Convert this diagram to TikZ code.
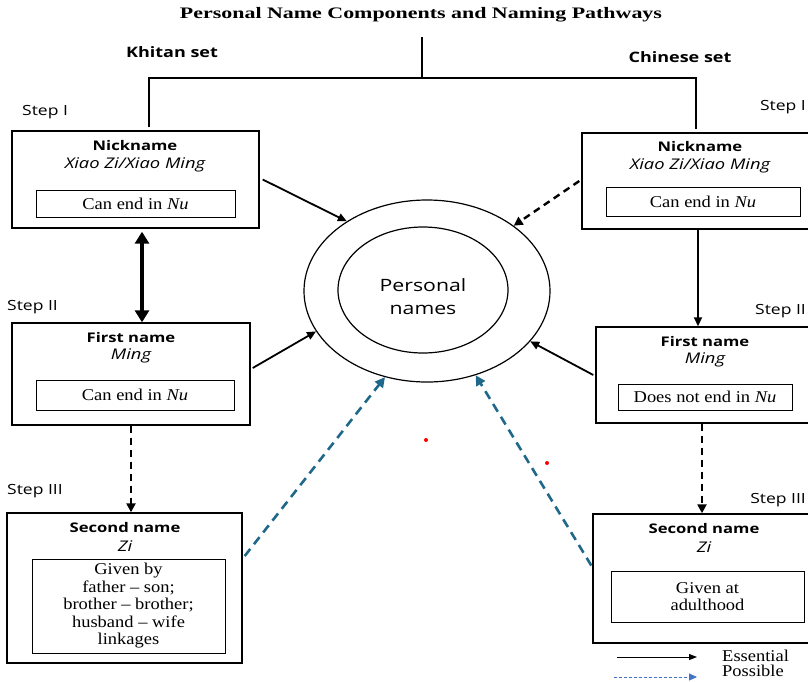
\documentclass[tikz,border=0pt]{standalone}
\usepackage{fontspec}
\usepackage{graphicx}
\setmainfont[FakeStretch=1.12]{Liberation Serif}
\newfontfamily\sansf[FakeStretch=1.25]{Open Sans}
\usetikzlibrary{arrows.meta,shapes.geometric}
\definecolor{bluec}{RGB}{31,104,138}
\definecolor{legblue}{RGB}{68,114,196}
\tikzset{
  outer/.style={draw, line width=1.4pt, inner sep=0pt},
  inner/.style={draw, line width=0.8pt, inner sep=0pt, align=center, font=\fontsize{16.5}{17.5}\selectfont},
  ttl/.style={font=\sansf\bfseries\fontsize{13.3}{14}\selectfont},
  itl/.style={font=\sansf\itshape\fontsize{14.7}{16}\selectfont},
  steplbl/.style={font=\sansf\fontsize{14}{16}\selectfont, anchor=west, inner sep=0pt},
  steplblr/.style={font=\sansf\fontsize{14}{16}\selectfont, anchor=east, inner sep=0pt},
  setlbl/.style={font=\sansf\bfseries\fontsize{14.4}{16}\selectfont},
  ess/.style={-{Triangle[length=9pt,width=8pt]}, line width=1.8pt},
  poss/.style={dash pattern=on 7pt off 5pt, line width=2.8pt, -{Triangle[length=9pt,width=9pt]}},
  blu/.style={color=bluec, dash pattern=on 9pt off 6pt, line width=2.6pt, -{Triangle[length=10pt,width=10pt]}},
  legtxt/.style={font=\fontsize{16.5}{17}\selectfont, anchor=west, inner sep=0pt},
}
\begin{document}
\begin{tikzpicture}[x=1pt,y=-1pt]
\clip (0,0) rectangle (808,681);
\fill[white] (0,0) rectangle (808,681);

% title
\node[inner sep=0pt] (title) at (421,15) {\resizebox{482pt}{\height}{\fontsize{16}{16}\selectfont\bfseries Personal Name Components and Naming Pathways}};

% set labels
\node[setlbl] (khitan) at (172,52) {Khitan set};
\node[setlbl] (chinese) at (680,57) {Chinese set};

% step labels
\node[steplbl] (s1l) at (22,112) {Step I};
\node[steplbl] (s2l) at (7,307) {Step II};
\node[steplbl] (s3l) at (7,491) {Step III};
\node[steplblr] (s1r) at (806,107) {Step I};
\node[steplblr] (s2r) at (806,311) {Step II};
\node[steplblr] (s3r) at (806,500) {Step III};

% left column boxes
\node[outer, minimum width=247pt, minimum height=97pt] (lnick) at (135.5,179.5) {};
\node[ttl] (lnickt) at (135,146) {Nickname};
\node[itl] (lnicki) at (135,165) {Xiao Zi/Xiao Ming};
\node[inner, minimum width=199pt, minimum height=27pt] (lnickb) at (135.5,203.5) {Can end in \textit{Nu}};

\node[outer, minimum width=238pt, minimum height=102pt] (lfirst) at (131,374) {};
\node[ttl] (lfirstt) at (131,338) {First name};
\node[itl] (lfirsti) at (131,356) {Ming};
\node[inner, minimum width=198pt, minimum height=30pt] (lfirstb) at (135,395) {Can end in \textit{Nu}};

\node[outer, minimum width=235pt, minimum height=150pt] (lsec) at (124.5,588) {};
\node[ttl] (lsect) at (125,528) {Second name};
\node[itl] (lseci) at (125,546) {Zi};
\node[inner, minimum width=193pt, minimum height=94pt] (lsecb) at (128.5,606) {Given by\\ father -- son;\\brother -- brother;\\husband -- wife\\linkages};

% right column boxes
\node[outer, minimum width=236pt, minimum height=96pt] (rnick) at (700,181) {};
\node[ttl] (rnickt) at (700,147) {Nickname};
\node[itl] (rnicki) at (700,166) {Xiao Zi/Xiao Ming};
\node[inner, minimum width=194pt, minimum height=29pt] (rnickb) at (703,201.5) {Can end in \textit{Nu}};

\node[outer, minimum width=222pt, minimum height=96pt] (rfirst) at (707,375) {};
\node[ttl] (rfirstt) at (705,342) {First name};
\node[itl] (rfirsti) at (705,360) {Ming};
\node[inner, minimum width=174pt, minimum height=26pt] (rfirstb) at (705,397) {Does not end in \textit{Nu}};

\node[outer, minimum width=225pt, minimum height=129pt] (rsec) at (705.5,578.5) {};
\node[ttl] (rsect) at (704,529) {Second name};
\node[itl] (rseci) at (704,547) {Zi};
\node[inner, minimum width=193pt, minimum height=51pt] (rsecb) at (707.5,596.5) {Given at\\adulthood};

% central circles
\node[draw, ellipse, line width=1.2pt, minimum width=246pt, minimum height=182pt, inner sep=0pt] (circ) at (427,291) {};
\node[draw, ellipse, line width=1.2pt, minimum width=170pt, minimum height=126pt, inner sep=0pt] (circin) at (423,290) {};
\node[font=\sansf\fontsize{17}{23}\selectfont, align=center] (pn) at (423,296.5) {Personal\\names};

% tree lines
\coordinate (top) at (422,37);
\coordinate (bar) at (422,78);
\coordinate (lcolt) at (149,78);
\coordinate (rcolt) at (696,78);
\draw[line width=1.5pt] (top) -- (bar);
\draw[line width=1.5pt] (lcolt |- lnick.north) ++(0,-3) -- (lcolt) -- (rcolt) -- ([yshift=3pt]rcolt |- rnick.north);

% vertical connectors
\coordinate (lc1) at (142,0);
\coordinate (lc2) at (131,0);
\coordinate (rc1) at (698,0);
\coordinate (rc2) at (702,0);
\draw[line width=4pt, {Triangle[length=12pt,width=14pt]}-{Triangle[length=12pt,width=14pt]}, shorten <=3pt] (lnick.south -| lc1) -- (lfirst.north -| lc1);
\draw[poss] (lfirst.south -| lc2) -- (lsec.north -| lc2);
\draw[ess] (rnick.south -| rc1) -- (rfirst.north -| rc1);
\draw[poss] (rfirst.south -| rc2) -- (rsec.north -| rc2);

% arrows to circle
\draw[ess] ([xshift=3pt]lnick.east) -- (circ.139);
\draw[poss, line width=2.4pt] ([xshift=-2pt]rnick.west) -- (circ.37);
\draw[ess] ([xshift=2pt,yshift=6pt]lfirst.east) -- (circ.200);
\draw[ess] ([xshift=-2pt]rfirst.west) -- (circ.334);
\draw[blu] ([xshift=2pt,yshift=32pt]lsec.east) -- (circ.244);
\draw[blu] ([xshift=-1pt,yshift=13pt]rsec.west) -- (circ.300);

% red dots
\node[circle, fill=red, inner sep=0pt, minimum size=4pt] (dot1) at (426,440) {};
\node[circle, fill=red, inner sep=0pt, minimum size=4pt] (dot2) at (547,463) {};

% legend
\coordinate (la1) at (617,657);
\coordinate (la2) at (697,657);
\coordinate (lb1) at (614,677);
\coordinate (lb2) at (697,677);
\draw[line width=0.9pt, -{Triangle[length=8pt,width=6pt]}] (la1) -- (la2);
\draw[legblue, line width=0.9pt, dash pattern=on 3pt off 2pt, -{Triangle[length=8pt,width=7pt]}] (lb1) -- (lb2);
\node[legtxt] (essl) at (722,656) {Essential};
\node[legtxt] (possl) at (722,671) {Possible};
\end{tikzpicture}
\end{document}
